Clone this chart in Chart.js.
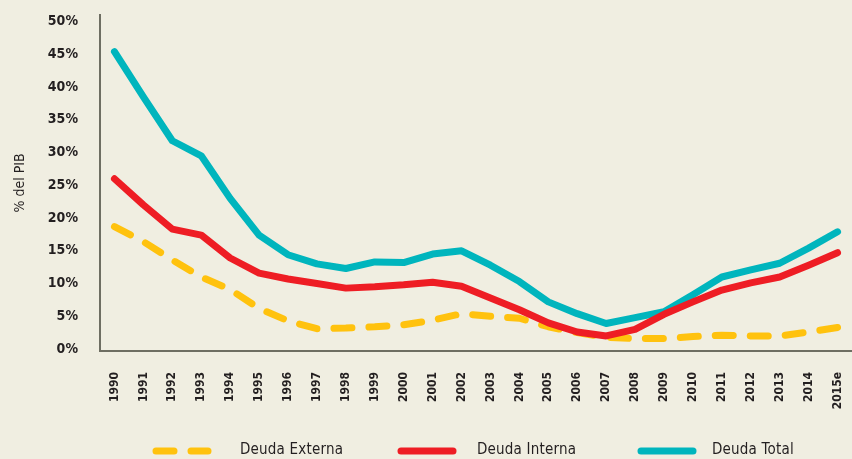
<!DOCTYPE html>
<html>
<head>
<meta charset="utf-8">
<script src="https://cdn.jsdelivr.net/npm/chart.js@4.4.0/dist/chart.umd.min.js"></script>
<style>
  html, body { margin: 0; padding: 0; background: #f0eee1; }
  #wrap { width: 852px; height: 459px; position: relative; }
</style>
</head>
<body>
<div id="wrap"><canvas id="deudaChart"></canvas></div>
<script>
// Datos
const years = ["1990", "1991", "1992", "1993", "1994", "1995", "1996", "1997", "1998", "1999",
  "2000", "2001", "2002", "2003", "2004", "2005", "2006", "2007", "2008", "2009",
  "2010", "2011", "2012", "2013", "2014", "2015e"];
const deudaExterna = [18.7, 16.4, 13.6, 11.0, 9.1, 6.2, 4.3, 3.1, 3.2, 3.4,
  3.7, 4.4, 5.4, 5.0, 4.7, 3.4, 2.5, 1.8, 1.6, 1.6,
  1.9, 2.1, 2.0, 2.0, 2.6, 3.3];
const deudaInterna = [26.0, 22.0, 18.3, 17.4, 13.9, 11.6, 10.7, 10.0, 9.3, 9.5,
  9.8, 10.2, 9.6, 7.8, 6.0, 4.0, 2.6, 2.0, 3.0, 5.3,
  7.2, 9.0, 10.1, 11.0, 12.8, 14.7];
const deudaTotal = [45.4, 38.5, 31.8, 29.5, 23.0, 17.4, 14.4, 13.0, 12.3, 13.3,
  13.2, 14.5, 15.0, 12.8, 10.3, 7.2, 5.4, 3.9, 4.8, 5.7,
  8.3, 11.0, 12.1, 13.1, 15.4, 17.9];
const yTicks = [0, 5, 10, 15, 20, 25, 30, 35, 40, 45, 50];

const fuente = "'Liberation Sans Narrow', 'DejaVu Sans Condensed', 'Liberation Sans', sans-serif";
const colorTexto = "#231f20";
const colorEje = "#6e6e62";

// Leyenda dibujada a mano abajo
const legendPos = [
  { line: [156, 208], text: 240 },
  { line: [401, 453], text: 477 },
  { line: [641, 693], text: 712 },
];
const legendY = 451;

const legendaAbajo = {
  id: "legendaAbajo",
  afterDraw(chart) {
    const ctx = chart.ctx;
    chart.data.datasets.forEach((ds, i) => {
      const p = legendPos[i];
      ctx.save();
      ctx.strokeStyle = ds.borderColor;
      ctx.lineWidth = ds.borderWidth;
      ctx.lineCap = "round";
      ctx.setLineDash(ds.borderDash || []);
      ctx.beginPath();
      ctx.moveTo(p.line[0], legendY);
      ctx.lineTo(p.line[1], legendY);
      ctx.stroke();
      ctx.setLineDash([]);
      ctx.fillStyle = colorTexto;
      ctx.font = "15px " + fuente;
      ctx.letterSpacing = "0.2px";
      ctx.textBaseline = "middle";
      ctx.fillText(ds.label, p.text, legendY - 1);
      ctx.restore();
    });
  },
};

const ctx = document.getElementById("deudaChart").getContext("2d");

const deudaChart = new Chart(ctx, {
  type: "line",
  data: {
    labels: years,
    datasets: [
      {
        label: "Deuda Externa",
        data: deudaExterna,
        borderColor: "#ffc20e",
        borderWidth: 7,
        borderDash: [18, 17],
        borderCapStyle: "round",
        order: 1,
      },
      {
        label: "Deuda Interna",
        data: deudaInterna,
        borderColor: "#ee1d24",
        borderWidth: 7,
        borderCapStyle: "round",
        order: 0,
      },
      {
        label: "Deuda Total",
        data: deudaTotal,
        borderColor: "#00b5bd",
        borderWidth: 7,
        borderCapStyle: "round",
        order: 2,
      },
    ],
  },
  options: {
    responsive: true,
    maintainAspectRatio: false,
    animation: false,
    layout: { padding: { top: 15, right: 0, bottom: 38, left: 0 } },
    elements: {
      point: { radius: 0, hoverRadius: 0 },
      line: { tension: 0, borderJoinStyle: "round", fill: false },
    },
    scales: {
      x: {
        offset: true,
        grid: { display: false, drawTicks: false },
        border: { display: true, color: colorEje, width: 2 },
        ticks: {
          autoSkip: false,
          minRotation: 90,
          maxRotation: 90,
          padding: 21,
          color: colorTexto,
          font: { family: fuente, size: 12, weight: "bold" },
        },
        afterFit(scale) {
          scale.height = 70;
          scale.paddingLeft = 0;
          scale.paddingRight = 0;
        },
      },
      y: {
        min: -0.3,
        max: 51,
        grid: { display: false, drawTicks: false },
        border: { display: true, color: colorEje, width: 2 },
        afterBuildTicks(scale) {
          scale.ticks = yTicks.map((v) => ({ value: v }));
        },
        ticks: {
          padding: 22,
          color: colorTexto,
          font: { family: fuente, size: 14, weight: "bold" },
          callback: (v) => v + "%",
        },
        title: {
          display: true,
          text: "% del PIB",
          color: colorTexto,
          font: { family: fuente, size: 14 },
          padding: { top: 12 },
        },
        afterFit(scale) {
          scale.width = 100;
          scale.paddingTop = 0;
          scale.paddingBottom = 0;
        },
      },
    },
    plugins: {
      legend: { display: false },
      tooltip: { enabled: false },
    },
  },
  plugins: [legendaAbajo],
});
</script>
</body>
</html>
